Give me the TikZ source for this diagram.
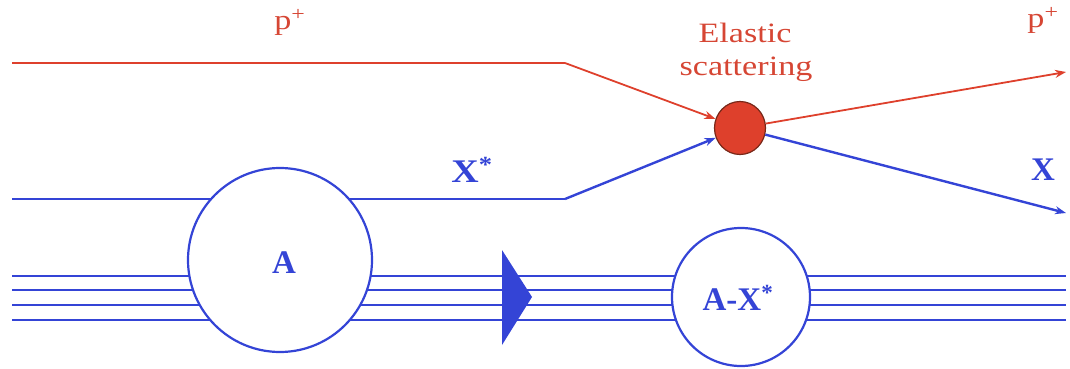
\documentclass[tikz,border=0pt]{standalone}
\usepackage{fontspec}
\setmainfont{Liberation Serif}
\usetikzlibrary{arrows.meta,shapes.geometric}
\definecolor{beam}{RGB}{52,68,214}
\definecolor{prot}{RGB}{222,64,44}
\definecolor{prottext}{RGB}{214,70,52}
\definecolor{balledge}{RGB}{120,40,25}
\newcommand{\widen}[1]{\scalebox{1.22}[1]{#1}}
\tikzset{
  bline/.style={draw=beam, line width=2.4pt},
  rline/.style={draw=prot, line width=1.8pt},
  barrow/.style={bline, -{Stealth[length=11pt,width=8pt]}},
  rarrow/.style={rline, -{Stealth[length=11pt,width=8pt]}},
  nucleus/.style={circle, draw=beam, line width=2.2pt, fill=white, inner sep=0pt},
  redlab/.style={text=prottext, font=\fontsize{28}{32}\selectfont, anchor=base, inner sep=0pt},
  bluelab/.style={text=beam, font=\fontsize{33}{36}\selectfont\bfseries, anchor=base, inner sep=0pt},
}
\begin{document}
\begin{tikzpicture}[x=1pt,y=-1pt]
\useasboundingbox (0,0) rectangle (1070,369);
% coordinates of free ends and bends
\coordinate (pin) at (12,63);
\coordinate (pbend) at (565,63);
\coordinate (pout) at (1066,72);
\coordinate (xin) at (12,199);
\coordinate (xbend) at (565,199);
\coordinate (xout) at (1066,213);
\foreach \y [count=\i] in {276,290,305,320}{
  \coordinate (l\i) at (12,\y);
  \coordinate (r\i) at (1066,\y);
}
% background lines
\foreach \i in {1,...,4}{ \draw[bline, line width=2.2pt] (l\i) -- (r\i); }
\draw[bline] (xin) -- (xbend);
% nuclei
\node[nucleus, minimum size=184pt] (A) at (280,260) {};
\node[nucleus, minimum size=138pt] (AX) at (741,297) {};
\node[bluelab] (Alab) at (284,273) {A};
\node[bluelab] (AXlab) at (738,310) {A-X\textsuperscript{*}};
% scattering vertex
\node[ellipse, fill=prot, draw=balledge, line width=1.2pt, minimum width=51pt, minimum height=53pt, inner sep=0pt] (ball) at (740,128) {};
% arrows
\draw[rline] (pin) -- (pbend);
\draw[rarrow] (pbend) -- (ball);
\draw[barrow] (xbend) -- (ball);
\draw[rarrow] (ball) -- (pout);
\draw[barrow] (ball) -- (xout);
% direction marker
\fill[beam] (502,250) -- (532,297) -- (502,345) -- cycle;
% labels
\node[redlab] (p1) at (290,30) {\widen{p\textsuperscript{+}}};
\node[redlab] (p2) at (1043,28) {\widen{p\textsuperscript{+}}};
\node[redlab] (el) at (745,43) {\widen{Elastic}};
\node[redlab] (sc) at (746,75) {\widen{scattering}};
\node[bluelab] (xs) at (472,182) {\scalebox{1.15}[1]{X\textsuperscript{*}}};
\node[bluelab] (x) at (1043,180) {X};
\end{tikzpicture}
\end{document}
